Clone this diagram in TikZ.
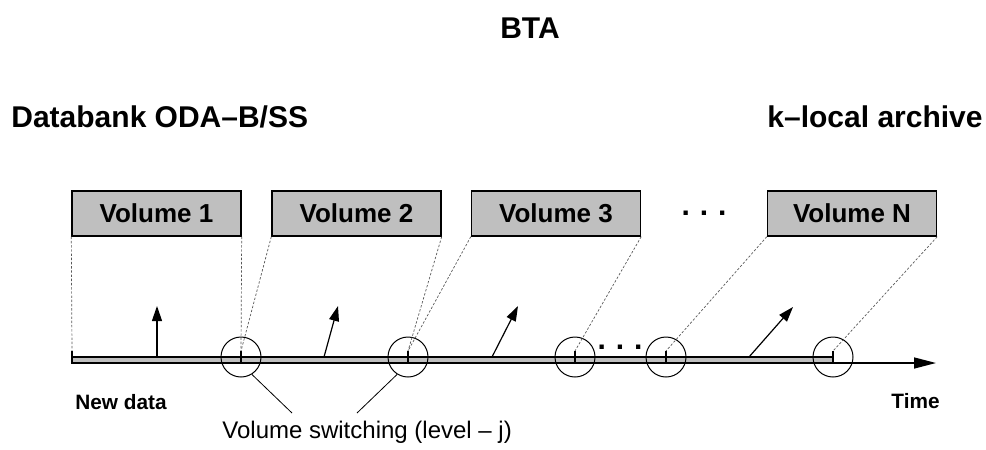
\documentclass[tikz,border=0pt]{standalone}
\usepackage{fontspec}
\setmainfont{Liberation Sans}
\usetikzlibrary{arrows.meta}
\tikzset{
  volbox/.style={draw, line width=0.7pt, fill=gray!50, minimum width=84.5pt, minimum height=22.5pt, font=\fontsize{13}{15}\bfseries},
  guide/.style={gray!70!black, line width=0.35pt, dash pattern=on 1.2pt off 0.9pt},
  swring/.style={circle, draw, line width=0.5pt, minimum size=20pt, inner sep=0pt},
  flow/.style={line width=0.6pt, -{Triangle[length=7.5pt,width=5pt]}},
  head/.style={font=\fontsize{15}{17}\bfseries, inner sep=0pt},
  dotrow/.style={font=\fontsize{15}{17}\bfseries, inner sep=0pt}
}
\begin{document}
\begin{tikzpicture}[x=0.5pt,y=-0.5pt]
    \useasboundingbox (0,0) rectangle (986,450);
    % titles
    \node[head] (bta) at (530,28) {BTA};
    \node[head, anchor=west] (odb) at (11,117) {Databank ODA--B/SS};
    \node[head, anchor=east] (arch) at (983,117) {k--local archive};
    % volumes
    \node[volbox] (v1) at (156.5,213.5) {Volume 1};
    \node[volbox] (v2) at (356.5,213.5) {Volume 2};
    \node[volbox] (v3) at (556,213.5) {Volume 3};
    \node[volbox] (vn) at (852,213.5) {Volume N};
    \node[dotrow] (vdots) at (704,213) {.\,\,.\,\,.};
    % time line
    \draw[line width=0.7pt, fill=gray!50] (72,357) rectangle (833,363);
    \draw[line width=0.7pt, -{Triangle[length=11pt,width=5.5pt]}] (833,363) -- (936,363);
    \foreach \x/\n in {72/0,241/1,408/2,575/3,666/4,833/5}{
        \coordinate (s\n) at (\x,351);
        \draw[line width=1pt] (s\n) -- (\x,363);
    }
    \foreach \x/\n in {241/1,408/2,575/3,666/4,833/5}
        \node[swring] (c\n) at (\x,357) {};
    \node[dotrow] (tdots) at (620,347) {.\,\,.\,\,.};
    % volume borders
    \draw[guide] (v1.south west) -- (s0);
    \draw[guide] (v1.south east) -- (s1);
    \draw[guide] (v2.south west) -- (s1);
    \draw[guide] (v2.south east) -- (s2);
    \draw[guide] (v3.south west) -- (s2);
    \draw[guide] (v3.south east) -- (s3);
    \draw[guide] (vn.south west) -- (s4);
    \draw[guide] (vn.south east) -- (s5);
    % incoming data
    \draw[flow] (157,357) -- (157,306);
    \draw[flow] (324,357) -- (338,306);
    \draw[flow] (492,357) -- (518,306);
    \draw[flow] (749,357) -- (793,307);
    % labels
    \node[font=\fontsize{10.4}{12}\bfseries, anchor=west, inner sep=0pt] (new) at (75,402) {New data};
    \node[font=\fontsize{10.4}{12}\bfseries, anchor=east, inner sep=0pt] (time) at (940,401) {Time};
    \node[font=\fontsize{12}{14}\selectfont, anchor=west, inner sep=0pt] (sw) at (222,432) {Volume switching (level -- j)};
    \coordinate (p1) at (292,413);
    \coordinate (p2) at (357,413);
    \draw[line width=0.4pt] (c1.-58) -- (p1);
    \draw[line width=0.4pt] (c2.-122) -- (p2);
\end{tikzpicture}
\end{document}
